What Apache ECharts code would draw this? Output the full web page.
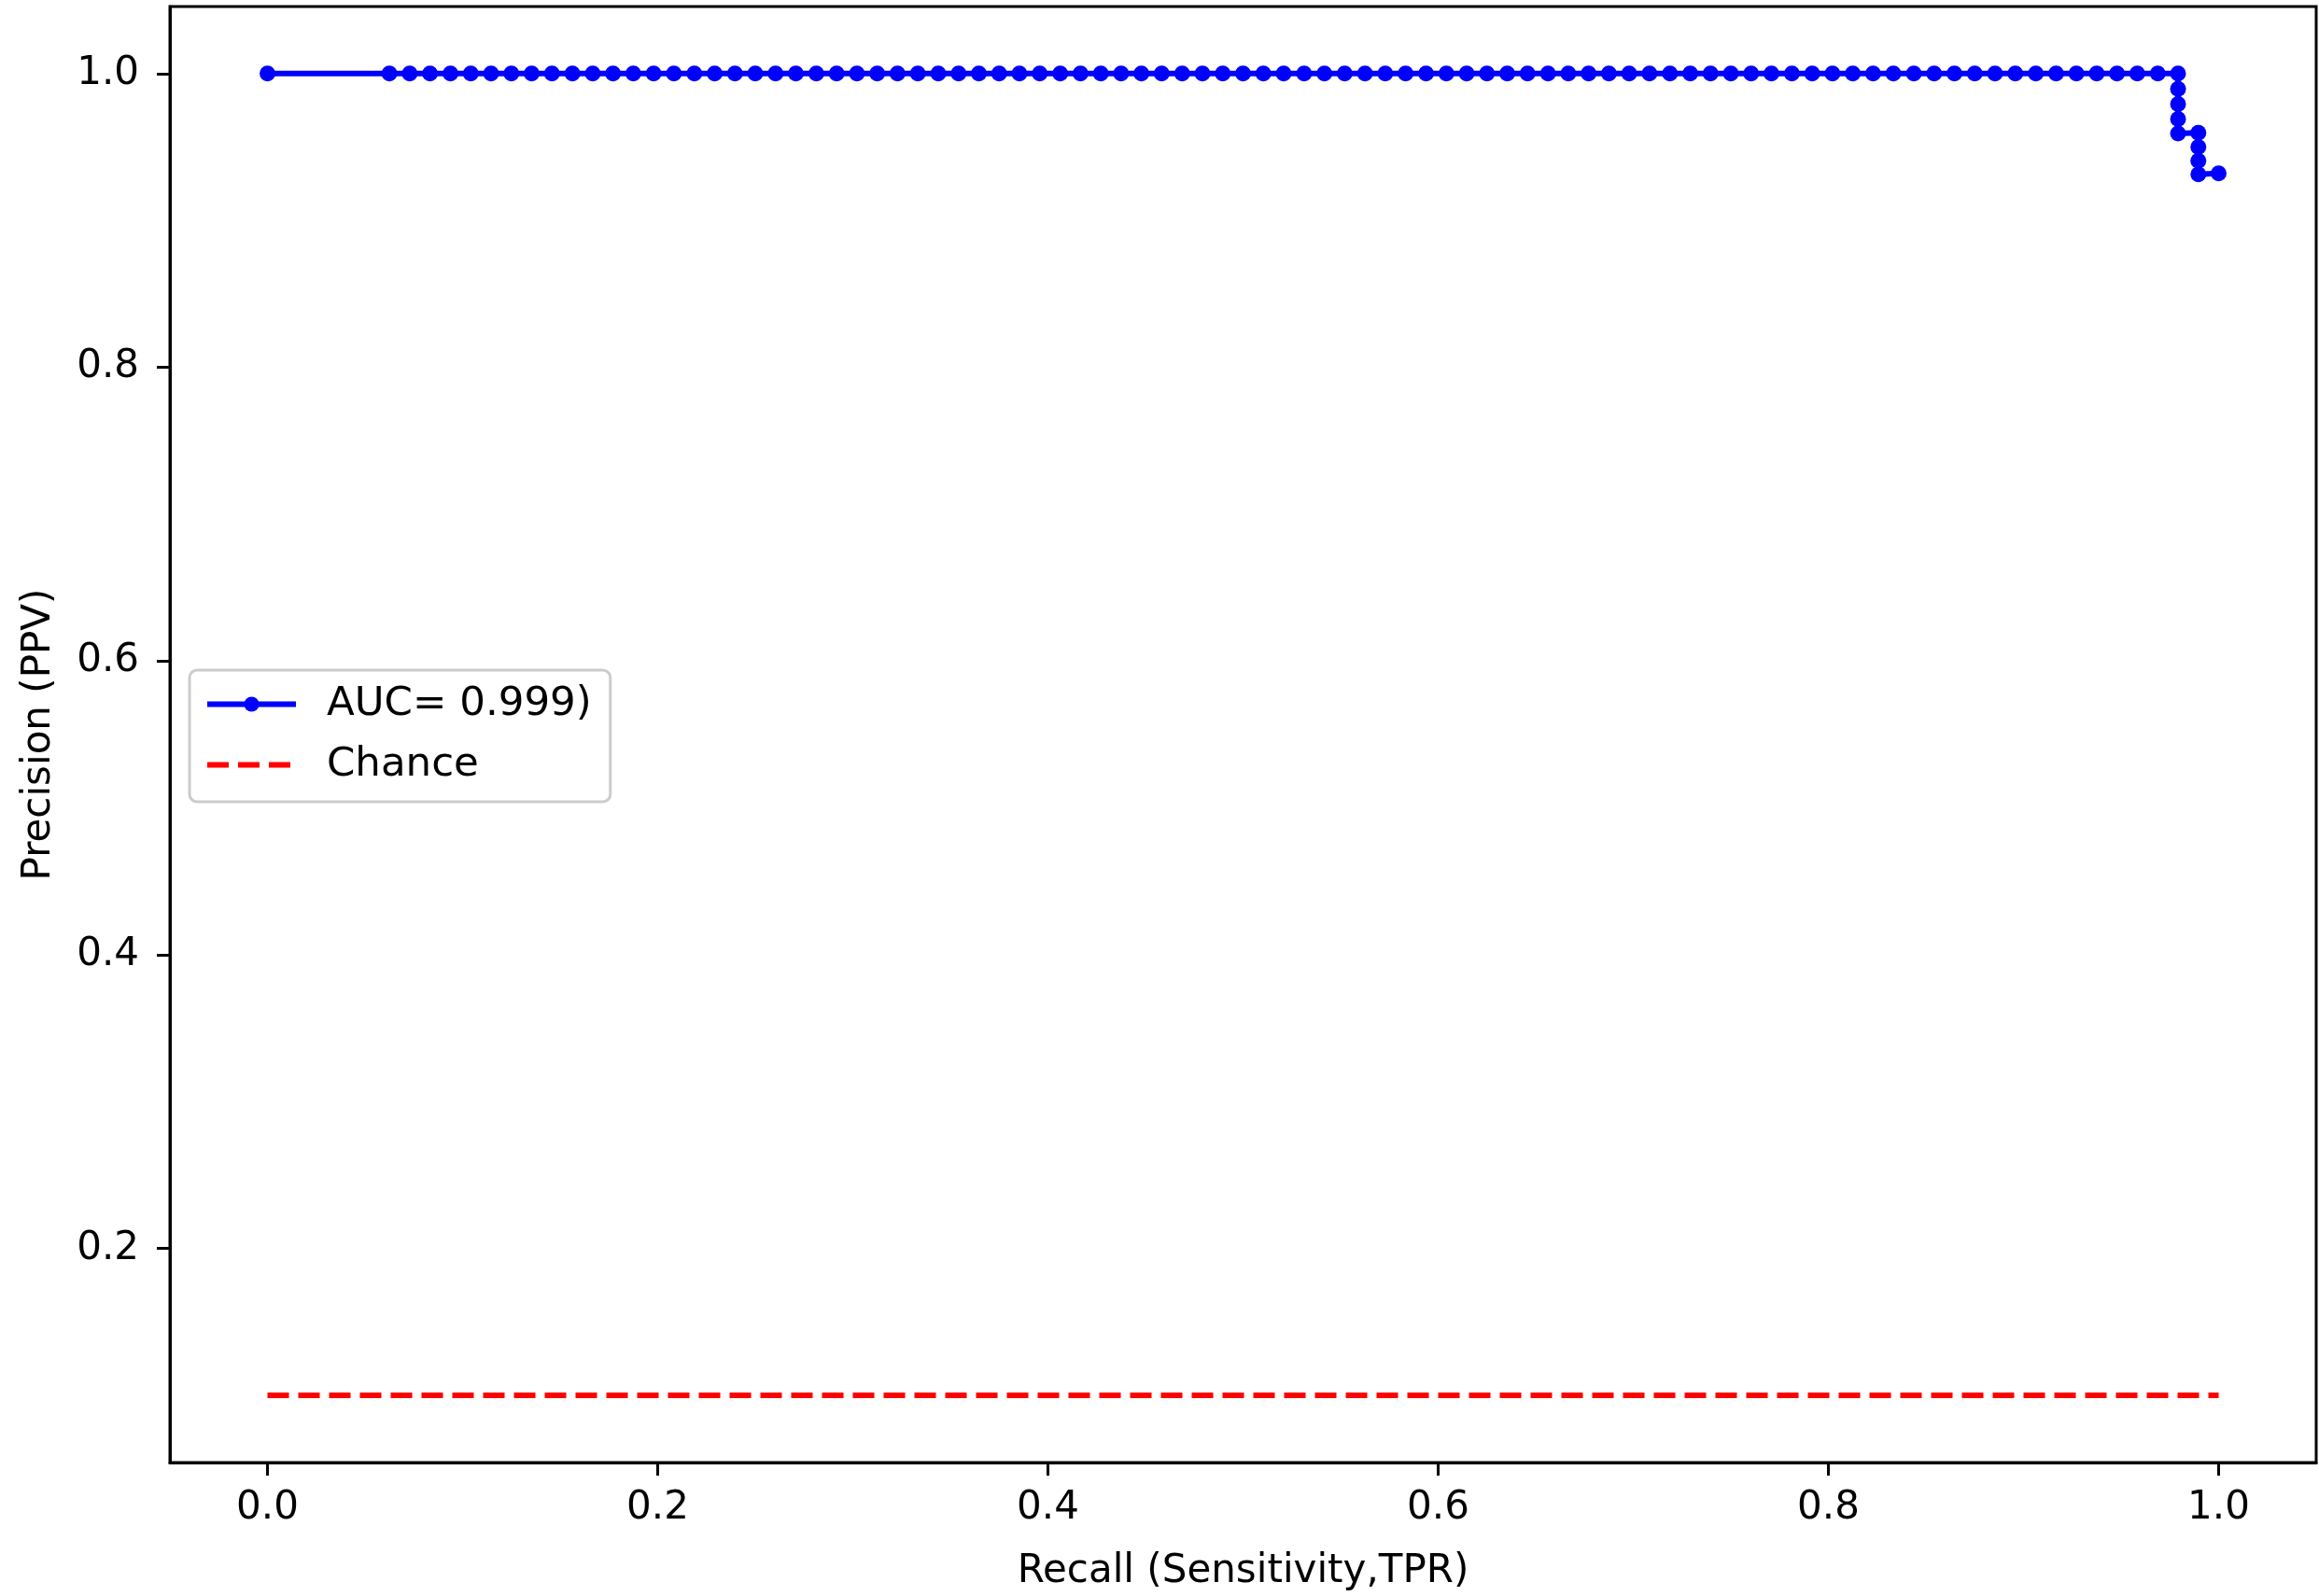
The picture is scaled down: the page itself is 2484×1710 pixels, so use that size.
<!DOCTYPE html>
<html>
<head>
<meta charset="utf-8">
<script src="https://cdn.jsdelivr.net/npm/echarts@6/dist/echarts.min.js"></script>
<style>
html,body{margin:0;padding:0;background:#fff;}
#chart{width:2484px;height:1710px;}
</style>
</head>
<body>
<div id="chart"></div>
<script>
// Recall (x) values of the precision-recall curve
var recall = [
  0,
  0.0625, 0.0729, 0.0833, 0.0938, 0.1042, 0.1146, 0.125, 0.1354, 0.1458, 0.1563,
  0.1667, 0.1771, 0.1875, 0.1979, 0.2083, 0.2188, 0.2292, 0.2396, 0.25, 0.2604,
  0.2708, 0.2813, 0.2917, 0.3021, 0.3125, 0.3229, 0.3333, 0.3438, 0.3542, 0.3646,
  0.375, 0.3854, 0.3958, 0.4063, 0.4167, 0.4271, 0.4375, 0.4479, 0.4583, 0.4688,
  0.4792, 0.4896, 0.5, 0.5104, 0.5208, 0.5313, 0.5417, 0.5521, 0.5625, 0.5729,
  0.5833, 0.5938, 0.6042, 0.6146, 0.625, 0.6354, 0.6458, 0.6563, 0.6667, 0.6771,
  0.6875, 0.6979, 0.7083, 0.7188, 0.7292, 0.7396, 0.75, 0.7604, 0.7708, 0.7813,
  0.7917, 0.8021, 0.8125, 0.8229, 0.8333, 0.8438, 0.8542, 0.8646, 0.875, 0.8854,
  0.8958, 0.9063, 0.9167, 0.9271, 0.9375, 0.9479, 0.9583, 0.9688, 0.9792,
  0.9792, 0.9792, 0.9792, 0.9792,
  0.9896, 0.9896, 0.9896, 0.9896,
  1.0
];
// Precision (y) values
var precision = [
  1,
  1, 1, 1, 1, 1, 1, 1, 1, 1, 1,
  1, 1, 1, 1, 1, 1, 1, 1, 1, 1,
  1, 1, 1, 1, 1, 1, 1, 1, 1, 1,
  1, 1, 1, 1, 1, 1, 1, 1, 1, 1,
  1, 1, 1, 1, 1, 1, 1, 1, 1, 1,
  1, 1, 1, 1, 1, 1, 1, 1, 1, 1,
  1, 1, 1, 1, 1, 1, 1, 1, 1, 1,
  1, 1, 1, 1, 1, 1, 1, 1, 1, 1,
  1, 1, 1, 1, 1, 1, 1, 1, 1,
  0.9895, 0.9792, 0.9691, 0.9592,
  0.9596, 0.95, 0.9406, 0.9314,
  0.932
];
// Chance line
var chanceX = [0, 1];
var chanceY = [0.1, 0.1];
// Tick labels
var xTicks = [0, 0.2, 0.4, 0.6, 0.8, 1.0];
var yTicks = [0.2, 0.4, 0.6, 0.8, 1.0];

var seriesName = 'AUC= 0.999)';
var chanceName = 'Chance';

var curveData = recall.map(function (r, i) { return [r, precision[i]]; });
var chanceData = chanceX.map(function (c, i) { return [c, chanceY[i]]; });

var FONT = 'DejaVu Sans';
var chart = echarts.init(document.getElementById('chart'), null, {renderer: 'canvas'});
var axisCommon = {
  axisLine: {show: true, onZero: false, lineStyle: {color: '#000', width: 3}},
  axisTick: {show: true, inside: false, length: 14, lineStyle: {color: '#000', width: 3}},
  splitLine: {show: false},
  nameLocation: 'middle',
  nameTextStyle: {fontFamily: FONT, fontSize: 42, color: '#000'}
};
chart.setOption({
  animation: false,
  backgroundColor: '#fff',
  grid: {left: 182, right: 3, top: 7, bottom: 138, show: true, borderColor: '#000', borderWidth: 3, backgroundColor: 'transparent'},
  xAxis: Object.assign({}, axisCommon, {
    type: 'value', min: -0.05, max: 1.05,
    name: 'Recall (Sensitivity,TPR)', nameGap: 96,
    axisTick: Object.assign({}, axisCommon.axisTick, {customValues: xTicks}),
    axisLabel: {customValues: xTicks, margin: 28, fontFamily: FONT, fontSize: 42, color: '#000',
      formatter: function (v) { return v.toFixed(1); }}
  }),
  yAxis: Object.assign({}, axisCommon, {
    type: 'value', min: 0.0543, max: 1.0456,
    name: 'Precision (PPV)', nameGap: 119,
    axisTick: Object.assign({}, axisCommon.axisTick, {customValues: yTicks}),
    axisLabel: {customValues: yTicks, margin: 33, fontFamily: FONT, fontSize: 42, color: '#000',
      formatter: function (v) { return v.toFixed(1); }}
  }),
  legend: {
    show: true, orient: 'vertical', left: 203, top: 718,
    padding: [13, 20, 16, 16],
    backgroundColor: 'rgba(255,255,255,0.8)',
    borderColor: '#cccccc', borderWidth: 3, borderRadius: 8,
    itemWidth: 95, itemHeight: 20, itemGap: 18,
    lineStyle: {width: 6},
    textStyle: {fontFamily: FONT, fontSize: 43.5, color: '#000', lineHeight: 47, padding: [0, 0, 0, 28]},
    data: [
      {name: seriesName},
      {name: chanceName, itemStyle: {opacity: 0}, lineStyle: {width: 6, type: [23, 10], color: '#ff0000'}}
    ]
  },
  series: [
    {
      name: chanceName, type: 'line', data: chanceData,
      showSymbol: false, symbol: 'none',
      lineStyle: {color: '#ff0000', width: 6, type: [23, 10]},
      itemStyle: {color: '#ff0000'},
      z: 2
    },
    {
      name: seriesName, type: 'line', data: curveData,
      symbol: 'circle', symbolSize: 17, showAllSymbol: true,
      lineStyle: {color: '#0000ff', width: 6},
      itemStyle: {color: '#0000ff'},
      z: 3
    }
  ]
});
</script>
</body>
</html>
